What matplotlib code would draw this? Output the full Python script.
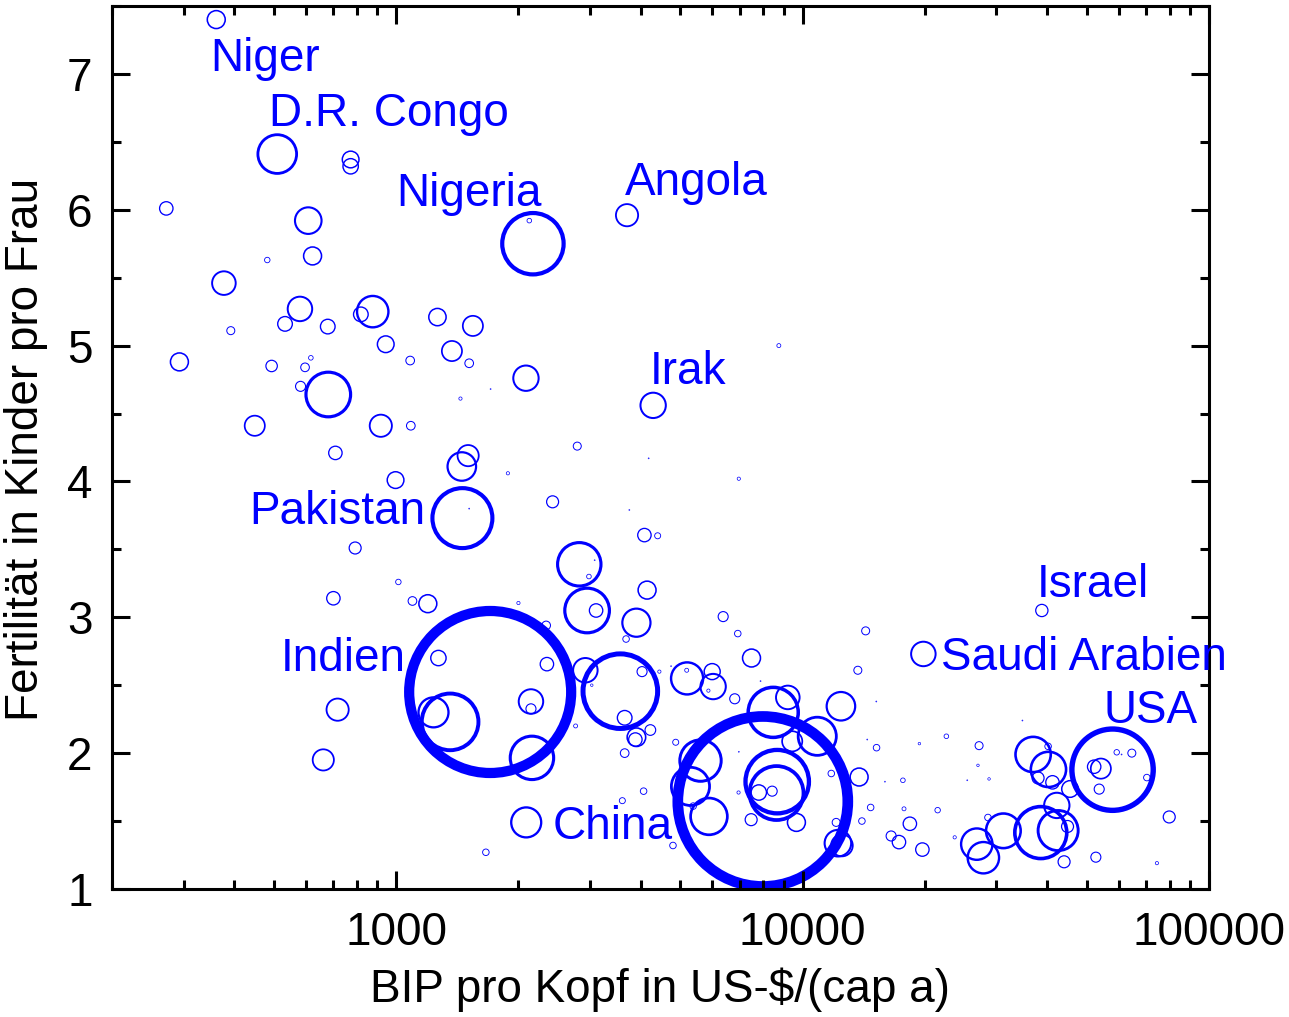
import numpy as np
import matplotlib
matplotlib.use("Agg")
import matplotlib.pyplot as plt
from matplotlib.ticker import FixedLocator, LogLocator, MultipleLocator, NullFormatter, FuncFormatter

plt.rcParams['font.family'] = ['Liberation Sans', 'DejaVu Sans']

# GDP per head (US-$), fertility (children per woman), population (millions)
gdp = [361, 510, 773, 773, 272, 608, 482, 623, 377, 580,
       533, 392, 679, 876, 819, 1264, 1545, 293, 494, 597,
       617, 582, 681, 943, 1083, 1372, 1513, 1440, 449, 917,
       1087, 709, 1504, 1451, 997, 1456, 1513, 793, 1013, 701,
       1097, 1197, 1704, 1271, 718, 662, 1236, 1358, 1663, 2171,
       2127, 3700, 2087, 1708, 4290, 8744, 4182, 2791, 1884, 6970,
       2427, 3749, 4083, 4401, 2823, 3080, 2982, 2951, 3105, 4145,
       3902, 3680, 6379, 6929, 2000, 2340, 2350, 2922, 3562, 4029,
       4444, 3030, 2147, 2147, 2159, 3651, 2765, 3902, 3879, 4223,
       3651, 4875, 5200, 5188, 4749, 5994, 6026, 5867, 6811, 7490,
       7883, 8470, 9200, 9432, 6970, 6960, 4800, 4064, 3603, 2090,
       7475, 14300, 19830, 13680, 12430, 15190, 10870, 15210, 19390, 14430,
       7985, 8664, 8630, 7806, 8420, 5610, 5300, 5886, 5381, 9660,
       13780, 11770, 15950, 17660, 14710, 17770, 21500, 14000, 18370, 12220,
       12500, 16520, 17270, 19720, 38800, 22590, 34760, 27190, 27020, 25430,
       28770, 36930, 40280, 40200, 37980, 41210, 45530, 57920, 52190, 54200,
       53700, 59300, 64600, 70340, 79850, 74470, 52690, 44010, 42230, 42550,
       44880, 38570, 31200, 26840, 27860, 28590, 23680, 12100, 60950]
fert = [7.40, 6.41, 6.37, 6.32, 6.01, 5.92, 5.63, 5.66, 5.46, 5.27,
        5.16, 5.11, 5.14, 5.25, 5.23, 5.21, 5.145, 4.88, 4.85, 4.84,
        4.91, 4.70, 4.64, 5.01, 4.89, 4.96, 4.87, 4.61, 4.41, 4.41,
        4.41, 4.21, 4.19, 4.11, 4.01, 3.73, 3.80, 3.51, 3.26, 3.14,
        3.12, 3.10, 2.45, 2.70, 2.32, 1.95, 2.30, 2.23, 1.27, 5.75,
        5.92, 5.96, 4.76, 4.68, 4.56, 5.00, 4.17, 4.26, 4.06, 4.02,
        3.85, 3.79, 3.605, 3.60, 3.39, 3.42, 3.30, 3.05, 3.05, 3.20,
        2.96, 2.84, 3.005, 2.88, 3.105, 2.94, 2.655, 2.61, 2.456, 2.60,
        2.60, 2.50, 2.38, 2.326, 1.965, 2.26, 2.20, 2.117, 2.10, 2.17,
        2.00, 2.08, 2.55, 2.61, 2.64, 2.60, 2.49, 2.46, 2.40, 2.70,
        2.53, 2.30, 2.41, 2.087, 2.01, 1.71, 1.32, 1.72, 1.65, 1.49,
        1.51, 2.90, 2.73, 2.61, 2.345, 2.38, 2.124, 2.04, 2.07, 2.10,
        1.644, 1.79, 1.706, 1.71, 1.72, 1.945, 1.755, 1.534, 1.61, 1.49,
        1.824, 1.85, 1.79, 1.80, 1.60, 1.59, 1.58, 1.50, 1.48, 1.337,
        1.32, 1.39, 1.345, 1.29, 3.05, 2.124, 2.24, 2.055, 1.91, 1.80,
        1.81, 1.99, 1.88, 2.05, 1.817, 1.785, 1.736, 1.878, 1.90, 1.886,
        1.735, 2.006, 2.00, 1.82, 1.53, 1.19, 1.234, 1.20, 1.615, 1.43,
        1.46, 1.415, 1.428, 1.33, 1.23, 1.526, 1.38, 1.49, 1.99]
pop = [15, 70, 13, 11, 8.4, 33, 1.4, 15, 26, 28,
       10, 3.0, 10, 46, 10, 14, 19, 15, 6.1, 3.5,
       1.0, 4.7, 93, 13, 3.5, 19, 3.5, 0.5, 19, 23,
       3.5, 8.4, 21, 38, 13, 168, 0.05, 6.7, 1.4, 8.4,
       3.5, 15, 1226, 11, 23, 21, 42, 150, 2.0, 176,
       1.0, 23, 30, 0.05, 30, 0.75, 0.05, 3.0, 0.5, 0.5,
       6.7, 0.05, 8.4, 1.7, 88, 0.05, 1.0, 93, 8.4, 15,
       37, 2.0, 4.7, 2.0, 0.5, 3.5, 8.4, 28, 260, 4.7,
       0.5, 0.3, 28, 4.7, 88, 10, 0.75, 16, 8.4, 5.3,
       3.5, 1.7, 48, 0.75, 0.05, 12, 30, 0.5, 4.7, 15,
       0.05, 117, 26, 19, 0.05, 0.5, 2.0, 2.0, 1.7, 42,
       6.7, 3.0, 28, 3.0, 38, 0.05, 68, 2.0, 0.3, 0.05,
       1350, 188, 136, 11, 4.7, 80, 68, 63, 2.0, 15,
       15, 2.0, 0.05, 1.0, 2.0, 0.75, 1.4, 2.0, 8.4, 33,
       22, 4.7, 8.4, 8.4, 7, 1.0, 0.05, 3.0, 0.3, 0.05,
       0.3, 58, 58, 2.0, 6.7, 8.4, 13, 309, 8.4, 19,
       4.7, 1.4, 3.0, 2.0, 6.7, 0.5, 4.7, 6.7, 30, 75,
       6.7, 126, 56, 46, 46, 2.0, 0.5, 3.0, 0.05]

label_names = ['Niger', 'D.R. Congo', 'Nigeria', 'Angola', 'Irak', 'Pakistan',
               'Indien', 'China', 'Israel', 'Saudi Arabien', 'USA']
label_gdp = [349, 487, 1003, 3655, 4205, 435, 520, 2430, 37800, 21930, 54960]
label_fert = [7.025, 6.615, 6.03, 6.105, 4.715, 3.684, 2.608, 1.367, 3.148, 2.614, 2.225]

dpi = 100
fig = plt.figure(figsize=(12.89, 10.17), dpi=dpi)
ax = fig.add_axes([0.0869, 0.1259, 0.8510, 0.8682])

pop = np.array(pop)
r_px = 85 * np.sqrt(pop / 1350.0)          # ring radius in pixels
sizes = (2 * r_px * 72.0 / dpi) ** 2
widths = (0.5 + 0.12 * r_px) * 72.0 / dpi

ax.scatter(gdp, fert, s=sizes, facecolors='none', edgecolors='#0000ff',
           linewidths=widths)

for name, x, y in zip(label_names, label_gdp, label_fert):
    ax.text(x, y, name, color='#0000ff', fontsize=33, ha='left', va='baseline',
            clip_on=False)

ax.set_xscale('log')
ax.set_xlim(200, 100000)
ax.set_ylim(1, 7.5)
ax.xaxis.set_major_locator(FixedLocator([1000, 10000, 100000]))
ax.xaxis.set_major_formatter(FuncFormatter(lambda v, p: '%d' % v))
ax.xaxis.set_minor_locator(LogLocator(base=10, subs=np.arange(2, 10)))
ax.xaxis.set_minor_formatter(NullFormatter())
ax.yaxis.set_major_locator(MultipleLocator(1))
ax.yaxis.set_minor_locator(MultipleLocator(0.5))

ax.tick_params(which='both', direction='in', top=True, right=True,
               width=2.2, labelsize=33, colors='black')
ax.tick_params(which='major', length=13)
ax.tick_params(which='minor', length=6.5)
ax.tick_params(axis='x', which='major', pad=16)
ax.tick_params(axis='y', which='major', pad=14)
for sp in ax.spines.values():
    sp.set_linewidth(2.2)

ax.set_xlabel('BIP pro Kopf in US-$/(cap a)', fontsize=33)
ax.xaxis.label.set_va('baseline')
ax.xaxis.set_label_coords(0.5, -0.128)
ax.set_ylabel('Fertilität in Kinder pro Frau', fontsize=33)
ax.yaxis.set_label_coords(-0.058, 0.498)

fig.savefig('out.png', dpi=dpi)
